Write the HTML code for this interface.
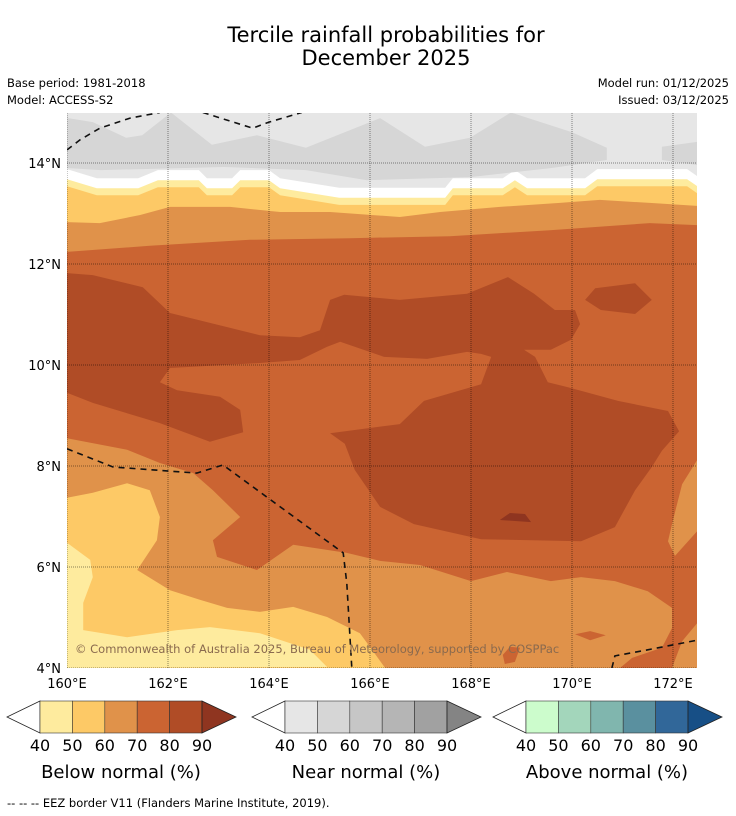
<!DOCTYPE html>
<html><head><meta charset="utf-8"><style>
html,body{margin:0;padding:0;background:#fff;}
svg{display:block;font-family:"DejaVu Sans","Liberation Sans",sans-serif;}
</style></head><body>
<svg id="chart" width="736" height="816" viewBox="0 0 736 816" xmlns="http://www.w3.org/2000/svg">
<defs><clipPath id="mapclip"><rect x="67" y="113" width="630" height="555"/></clipPath></defs>
<text x="386" y="42" text-anchor="middle" font-size="21" fill="#000">Tercile rainfall probabilities for</text>
<text x="386" y="65" text-anchor="middle" font-size="21" fill="#000">December 2025</text>
<text x="7" y="87" font-size="11.5">Base period: 1981-2018</text>
<text x="7" y="104" font-size="11.5">Model: ACCESS-S2</text>
<text x="729" y="87" font-size="11.5" text-anchor="end">Model run: 01/12/2025</text>
<text x="729" y="104" font-size="11.5" text-anchor="end">Issued: 03/12/2025</text>
<g id="map" clip-path="url(#mapclip)"></g>
<g id="axes"></g>
<g id="bars"></g>
<text x="7" y="807" font-size="11.5">--  --  -- EEZ border V11 (Flanders Marine Institute, 2019).</text>
</svg>
<script>
const lonTicks=[160,162,164,166,168,170,172];
const latTicks=[4,6,8,10,12,14];
const barLevels=[40,50,60,70,80,90];
const belowColors=["#feeb9e","#fdc966","#e0924a","#cb6432","#b04c26","#8f3520"];
const nearColors=["#e6e6e6","#d6d6d6","#c6c6c6","#b5b5b5","#a1a1a1","#848484"];
const aboveColors=["#ccfccc","#a3d6bb","#80b6ae","#5a909f","#316799","#174f86"];
const barTitles=["Below normal (%)","Near normal (%)","Above normal (%)"];
// contour boundaries (lon,lat)
const orangeTopBound=[[160,12.24],[161.64,12.36],[163.62,12.48],[165.6,12.51],[167.58,12.55],[169.56,12.67],[171.54,12.81],[172.48,12.77]];
const yellowTopBound=[[160,12.83],[160.65,12.81],[161.45,12.97],[162.04,13.13],[163.23,13.13],[164.22,13.03],[165.21,13.03],[166.59,12.93],[167.39,13.03],[168.57,13.13],[169.76,13.21],[170.55,13.27],[171.54,13.21],[172.48,13.15]];
const whiteBound=[[160,13.68],[160.59,13.5],[161.41,13.5],[161.8,13.66],[162.61,13.66],[162.77,13.5],[163.27,13.5],[163.43,13.66],[164,13.66],[164.22,13.5],[165.39,13.31],[167.49,13.31],[167.64,13.5],[168.63,13.5],[168.87,13.66],[169.11,13.5],[170.26,13.5],[170.5,13.68],[172.28,13.68],[172.48,13.54]];
const grayPatchA=[[160,15],[160.02,14.89],[160.51,14.81],[161.17,14.5],[161.49,14.55],[162.06,15],[162.3,14.81],[162.87,14.36],[163.76,14.55],[164.73,14.3],[166.2,14.89],[167.09,14.32],[167.98,14.5],[168.79,15],[170,14.61],[170.69,14.3],[170.69,14.06],[169.6,13.9],[167.98,13.72],[165.94,13.66],[164.73,13.86],[163.11,13.92],[160.67,13.86],[160,13.9]];
const grayPatchB=[[171.78,14.32],[172.48,14.42],[172.48,13.96],[171.78,14.06]];
const brownMain=[[160,11.82],[160.51,11.78],[161.5,11.54],[162.04,11.03],[163.82,10.59],[164.61,10.55],[165.01,10.69],[165.21,11.29],[165.49,11.39],[166.59,11.29],[167.92,11.41],[168.73,11.74],[169.25,11.41],[169.66,11.09],[170.06,11.09],[170.16,10.81],[169.98,10.5],[169.58,10.3],[169.05,10.3],[169.27,10.16],[169.52,9.66],[169.92,9.56],[170.91,9.29],[171.9,9.09],[172.12,8.69],[171.78,8.3],[171.58,7.98],[171.25,7.52],[170.85,6.79],[170.18,6.51],[168.2,6.55],[166.87,6.85],[166.2,7.19],[165.7,7.92],[165.5,8.44],[165.21,8.65],[166.59,8.83],[167.07,9.29],[168.2,9.62],[168.4,10.16],[168.2,10.22],[167.92,10.26],[167.13,10.12],[166.28,10.16],[165.41,10.46],[165.15,10.36],[164.61,10.1],[163.82,10.04],[162.04,9.94],[161.84,9.66],[162.18,9.5],[163.03,9.37],[163.43,9.11],[163.49,8.67],[162.83,8.48],[161.84,8.85],[160.51,9.25],[160,9.45]];
const brownBlob=[[170.26,11.29],[170.46,11.52],[171.25,11.62],[171.58,11.29],[171.25,11.01],[170.57,11.09]];
const darkPatch=[[168.57,6.93],[168.77,7.07],[169.07,7.05],[169.19,6.89]];
const orangeSouth=[[160,8.55],[161.19,8.32],[161.84,8.06],[162.5,7.86],[162.89,7.52],[163.43,6.99],[162.89,6.53],[162.97,6.2],[163.76,5.94],[164.48,6.44],[165.54,6.28],[166.2,6.12],[166.99,6.04],[168,5.72],[168.71,5.9],[169.58,5.72],[170.18,5.8],[170.85,5.72],[171.5,5.52],[171.98,5.19],[171.98,4.79],[171.78,4.4],[171.19,4.2],[170.95,4],[160,4]];
const yellowSouth=[[160,7.37],[160.51,7.47],[161.19,7.66],[161.64,7.52],[161.84,6.99],[161.78,6.53],[161.39,5.94],[162.04,5.54],[162.63,5.35],[163.17,5.19],[163.82,5.11],[164.48,5.21],[165.15,5.01],[165.8,4.69],[166.04,4.36],[166.3,4],[160,4]];
const paleSouth=[[160,6.48],[160.46,6.14],[160.51,5.8],[160.32,5.29],[160.32,4.75],[161.19,4.61],[162.18,4.75],[162.83,4.81],[163.82,4.69],[164.81,4.36],[165.15,4.02],[160,4]];
const orangeEastA=[[172.48,8.12],[172.18,7.64],[171.98,6.85],[171.9,6.51],[172.04,6.22],[172.48,6.71]];
const orangeEastB=[[172.48,4.89],[172.18,4.53],[171.98,4],[172.48,4]];
const midPatchA=[[170.06,4.67],[170.36,4.73],[170.67,4.65],[170.36,4.55]];
const midPatchB=[[168.63,4.26],[168.77,4.42],[168.97,4.4],[168.87,4.12],[168.67,4.08]];
const eezNW1=[[160,14.26],[160.26,14.46],[160.65,14.69],[161.25,14.89],[161.84,15]];
const eezNW2=[[162.69,15],[163.68,14.69],[164,14.81],[164.65,15]];
const eezSW=[[160,8.34],[160.91,7.98],[162.57,7.86],[163.09,8.02],[165.47,6.28],[165.54,5.68],[165.64,4]];
const eezSE=[[170.79,4],[170.85,4.24],[171.5,4.36],[172.48,4.55]];

const NS="http://www.w3.org/2000/svg";
const px=lon=>67+(lon-160)*50.5;
const py=lat=>163+(14-lat)*50.5;
const LON_MIN=160,LON_MAX=172.48,LAT_MAX=15;
function pathOf(pts,close){return pts.map((p,i)=>(i?"L":"M")+px(p[0]).toFixed(1)+","+py(p[1]).toFixed(1)).join("")+(close?"Z":"");}
function topPoly(bound,dLat){return [[LON_MIN,LAT_MAX]].concat(bound.map(p=>[p[0],p[1]+dLat])).concat([[LON_MAX,LAT_MAX]]);}
const map=document.getElementById("map");
function addPath(parent,d,fill,name,stroke,extra){
  const e=document.createElementNS(NS,"path");
  e.setAttribute("d",d);
  e.setAttribute("fill",fill);
  if(stroke){e.setAttribute("stroke",stroke);}
  if(extra){for(const k in extra)e.setAttribute(k,extra[k]);}
  
  
  parent.appendChild(e);return e;
}
const base=document.createElementNS(NS,"rect");
base.setAttribute("x",67);base.setAttribute("y",113);base.setAttribute("width",630);base.setAttribute("height",555);base.setAttribute("fill","#cb6432");


map.appendChild(base);
addPath(map,pathOf(topPoly(orangeTopBound,0),true),"#e0924a","band-60-70-north");
addPath(map,pathOf(topPoly(yellowTopBound,0),true),"#fdc966","band-50-60-north");
addPath(map,pathOf(topPoly(whiteBound,-0.14),true),"#feeb9e","band-40-50-north");
addPath(map,pathOf(topPoly(whiteBound,0),true),"#ffffff","band-below-40");
addPath(map,pathOf(topPoly(whiteBound,0.2),true),"#e6e6e6","near-normal-40-50");
addPath(map,pathOf(grayPatchA,true),"#d6d6d6","near-normal-50-60-west");
addPath(map,pathOf(grayPatchB,true),"#d6d6d6","near-normal-50-60-east");
addPath(map,pathOf(brownMain,true),"#b04c26","band-80-90-main");
addPath(map,pathOf(brownBlob,true),"#b04c26","band-80-90-blob");
addPath(map,pathOf(darkPatch,true),"#8f3520","band-90-patch");
addPath(map,pathOf(orangeSouth,true),"#e0924a","band-60-70-south");
addPath(map,pathOf(yellowSouth,true),"#fdc966","band-50-60-south");
addPath(map,pathOf(paleSouth,true),"#feeb9e","band-40-50-south");
addPath(map,pathOf(orangeEastA,true),"#e0924a","band-60-70-east");
addPath(map,pathOf(orangeEastB,true),"#e0924a","band-60-70-southeast");
addPath(map,pathOf(midPatchA,true),"#cb6432","band-70-80-patch-a");
addPath(map,pathOf(midPatchB,true),"#cb6432","band-70-80-patch-b");
// grid
lonTicks.forEach(l=>{
  const ln=document.createElementNS(NS,"line");
  ln.setAttribute("x1",px(l));ln.setAttribute("x2",px(l));ln.setAttribute("y1",113);ln.setAttribute("y2",668);
  ln.setAttribute("stroke","rgba(0,0,0,0.45)");ln.setAttribute("stroke-width","1");ln.setAttribute("stroke-dasharray","1,1");
  
  
  map.appendChild(ln);
});
latTicks.forEach(l=>{
  const ln=document.createElementNS(NS,"line");
  ln.setAttribute("x1",67);ln.setAttribute("x2",697);ln.setAttribute("y1",py(l));ln.setAttribute("y2",py(l));
  ln.setAttribute("stroke","rgba(0,0,0,0.45)");ln.setAttribute("stroke-width","1");ln.setAttribute("stroke-dasharray","1,1");
  
  
  map.appendChild(ln);
});
[eezNW1,eezNW2,eezSW,eezSE].forEach(a=>{
  addPath(map,pathOf(a,false),"none","eez-border","#111",{"stroke-width":"1.6","stroke-dasharray":"6,5"});
});
const cp=document.createElementNS(NS,"text");
cp.setAttribute("x",75);cp.setAttribute("y",653);cp.setAttribute("font-size","11.5");cp.setAttribute("fill","#8a6a4e");
cp.textContent="© Commonwealth of Australia 2025, Bureau of Meteorology, supported by COSPPac";


map.appendChild(cp);
// axis labels
const axes=document.getElementById("axes");
lonTicks.forEach(l=>{
  const t=document.createElementNS(NS,"text");
  t.setAttribute("x",px(l));t.setAttribute("y",688);t.setAttribute("text-anchor","middle");t.setAttribute("font-size","13");
  t.textContent=l+"°E";
  
  
  axes.appendChild(t);
});
latTicks.forEach(l=>{
  const t=document.createElementNS(NS,"text");
  t.setAttribute("x",61);t.setAttribute("y",py(l)+5);t.setAttribute("text-anchor","end");t.setAttribute("font-size","13");
  t.textContent=l+"°N";
  
  
  axes.appendChild(t);
});
// colorbars
const bars=document.getElementById("bars");
const barLefts=[40,285,526];
const cw=32.4,by=701,bh=32;
[belowColors,nearColors,aboveColors].forEach((cols,bi)=>{
  const x0=barLefts[bi],n=barLevels.length-1,x1=x0+cw*n;
  const lt=document.createElementNS(NS,"path");
  lt.setAttribute("d",`M${x0},${by}L${x0-33},${by+bh/2}L${x0},${by+bh}Z`);
  lt.setAttribute("fill","#fff");lt.setAttribute("stroke","#222");lt.setAttribute("stroke-width","0.8");
  
  
  bars.appendChild(lt);
  for(let i=0;i<n;i++){
    const r=document.createElementNS(NS,"rect");
    r.setAttribute("x",x0+i*cw);r.setAttribute("y",by);r.setAttribute("width",cw);r.setAttribute("height",bh);
    r.setAttribute("fill",cols[i]);r.setAttribute("stroke","#333");r.setAttribute("stroke-width","0.6");
    
    
    bars.appendChild(r);
  }
  const rt=document.createElementNS(NS,"path");
  rt.setAttribute("d",`M${x1},${by}L${x1+34},${by+bh/2}L${x1},${by+bh}Z`);
  rt.setAttribute("fill",cols[n]);rt.setAttribute("stroke","#222");rt.setAttribute("stroke-width","0.8");
  
  
  bars.appendChild(rt);
  barLevels.forEach((v,i)=>{
    const t=document.createElementNS(NS,"text");
    t.setAttribute("x",x0+i*cw);t.setAttribute("y",751);t.setAttribute("text-anchor","middle");t.setAttribute("font-size","16");
    t.textContent=v;
    
    
    bars.appendChild(t);
  });
  const tt=document.createElementNS(NS,"text");
  tt.setAttribute("x",x0+cw*n/2);tt.setAttribute("y",778);tt.setAttribute("text-anchor","middle");tt.setAttribute("font-size","18");
  tt.textContent=barTitles[bi];
  
  
  bars.appendChild(tt);
});
</script>
</body></html>
